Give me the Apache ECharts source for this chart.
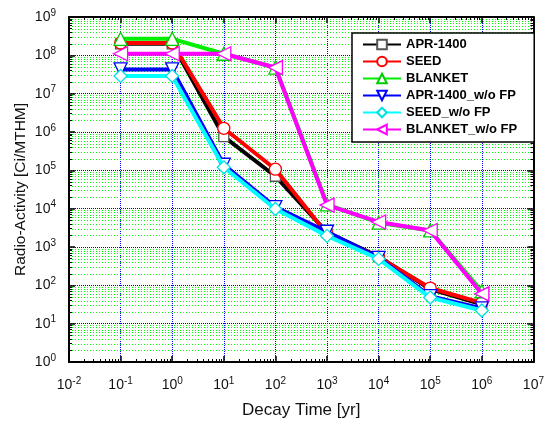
<!DOCTYPE html>
<html><head><meta charset="utf-8">
<script src="https://cdn.jsdelivr.net/npm/echarts@6/dist/echarts.min.js"></script>
<style>html,body{margin:0;padding:0;background:#fff}#c{width:547px;height:424px}</style>
</head><body><div id="c"></div>
<script>
const times = [0.1, 1, 10, 100, 1000, 1e4, 1e5, 1e6];
const apr1400 = [2.0e8, 2.0e8, 7.6e5, 7.0e4, 2.4e3, 5.6e2, 8.0e1, 3.2e1];
const seed = [2.1e8, 2.1e8, 1.25e6, 1.07e5, 2.2e3, 5.4e2, 8.5e1, 3.5e1];
const blanket = [2.7e8, 2.7e8, 1.1e8, 4.8e7, 1.3e4, 4.3e3, 2.7e3, 7.0e1];
const aprNoFP = [4.3e7, 4.3e7, 1.4e5, 1.1e4, 2.5e3, 5.2e2, 5.2e1, 2.5e1];
const seedNoFP = [2.9e7, 2.9e7, 1.2e5, 9.8e3, 1.95e3, 4.9e2, 4.8e1, 2.2e1];
const blanketNoFP = [1.1e8, 1.1e8, 1.1e8, 4.8e7, 1.24e4, 4.5e3, 2.7e3, 6.0e1];
const seriesNames = ['APR-1400', 'SEED', 'BLANKET', 'APR-1400_w/o FP', 'SEED_w/o FP', 'BLANKET_w/o FP'];
const seriesValues = [apr1400, seed, blanket, aprNoFP, seedNoFP, blanketNoFP];
const xDecadeExponents = [-2, -1, 0, 1, 2, 3, 4, 5, 6, 7];
const yDecadeExponents = [0, 1, 2, 3, 4, 5, 6, 7, 8, 9];
const minorMultipliers = [2, 3, 4, 5, 6, 7, 8, 9];

const lineColors = ['#000000', '#ff0000', '#00ee00', '#0000ff', '#00ffff', '#ff00ff'];
const symbolBorder = ['#555555', '#ff0000', '#00cc00', '#0000ff', '#00e0e0', '#ff00ff'];
const symbols = ['rect', 'circle', 'triangle', 'triangle', 'diamond', 'triangle'];
const symbolRot = [0, 0, 0, 180, 0, 90];
const symbolSizes = [10, 12, 13, 13, 13, 14];

const xMin = Math.pow(10, xDecadeExponents[0]);
const xMax = Math.pow(10, xDecadeExponents[xDecadeExponents.length - 1]);
const yMin = Math.pow(10, yDecadeExponents[0]);
const yMax = Math.pow(10, yDecadeExponents[yDecadeExponents.length - 1]);

// minor grid positions on the y axis (2..9 x 10^k)
const yMinorValues = [];
yDecadeExponents.slice(0, -1).forEach(e => minorMultipliers.forEach(m => yMinorValues.push(m * Math.pow(10, e))));

const font = 'Liberation Sans, Arial, sans-serif';
function expLabel(v) {
  const e = Math.round(Math.log10(v));
  return '{b|10}{s|' + e + '}';
}
const labelRich = {
  b: {fontSize: 14, fontFamily: font, color: '#111'},
  s: {fontSize: 10, fontFamily: font, color: '#111', verticalAlign: 'top', padding: [0, 0, 8, 0]}
};

const chart = echarts.init(document.getElementById('c'), null, {renderer: 'canvas'});
const commonAxisLine = {show: true, onZero: false, lineStyle: {color: '#000', width: 2}};
function axisBase(extra) {
  return Object.assign({
    type: 'log', logBase: 10,
    axisLine: commonAxisLine,
    axisTick: {inside: true, length: 6, lineStyle: {color: '#000', width: 1.5}},
    minorTick: {show: true, splitNumber: 9, length: 3, lineStyle: {color: '#000', width: 1}},
    minorSplitLine: {show: false},
    splitLine: {show: false},
    axisLabel: {show: false}
  }, extra);
}
const option = {
  animation: false,
  backgroundColor: '#fff',
  grid: {left: 69, right: 7, top: 17, bottom: 61},
  legend: {
    data: seriesNames,
    orient: 'vertical',
    left: 352, top: 33,
    itemWidth: 38, itemHeight: 12, itemGap: 4,
    padding: [5, 17, 6, 10],
    borderColor: '#000', borderWidth: 1.5, backgroundColor: '#fff',
    textStyle: {fontFamily: font, fontSize: 13, fontWeight: 'bold', color: '#000'}
  },
  xAxis: [axisBase({
    min: xMin, max: xMax,
    name: 'Decay Time [yr]', nameLocation: 'middle', nameGap: 40, nameMoveOverlap: false,
    nameTextStyle: {fontFamily: font, fontSize: 17, color: '#111'},
    axisLabel: {show: true, formatter: expLabel, rich: labelRich, margin: 14},
    splitLine: {show: true, lineStyle: {color: '#0000ff', type: 'dotted', width: 1}}
  }), axisBase({min: xMin, max: xMax, position: 'top'})],
  yAxis: [axisBase({
    min: yMin, max: yMax,
    name: 'Radio-Activity [Ci/MTHM]', nameLocation: 'middle', nameGap: 40, nameMoveOverlap: false,
    nameTextStyle: {fontFamily: font, fontSize: 15.5, color: '#111'},
    axisLabel: {show: true, formatter: expLabel, rich: labelRich, margin: 13},
    splitLine: {show: true, lineStyle: {color: '#0000ff', type: 'dotted', width: 1}}
  }), axisBase({min: yMin, max: yMax, position: 'right'})],
  series: [{
    type: 'custom',
    name: 'minorGrid',
    silent: true,
    z: 0,
    xAxisIndex: 0, yAxisIndex: 0,
    data: yMinorValues.map(v => [xMin, v]),
    renderItem: function (params, api) {
      const p0 = api.coord([xMin, api.value(1)]);
      const p1 = api.coord([xMax, api.value(1)]);
      return {
        type: 'line',
        shape: {x1: p0[0], y1: Math.round(p0[1]) + 0.5, x2: p1[0], y2: Math.round(p1[1]) + 0.5},
        style: {stroke: '#00ff00', lineWidth: 1, lineDash: [1, 2]}
      };
    }
  }].concat(seriesNames.map((name, i) => ({
    name: name,
    type: 'line',
    xAxisIndex: 0, yAxisIndex: 0,
    data: times.map((t, j) => [t, seriesValues[i][j]]),
    symbol: symbols[i], symbolRotate: symbolRot[i], symbolSize: symbolSizes[i],
    showAllSymbol: true,
    lineStyle: {color: lineColors[i], width: 4},
    itemStyle: {color: '#fff', borderColor: symbolBorder[i], borderWidth: 1.3},
    z: 2 + i
  })))
};
chart.setOption(option);
</script></body></html>
